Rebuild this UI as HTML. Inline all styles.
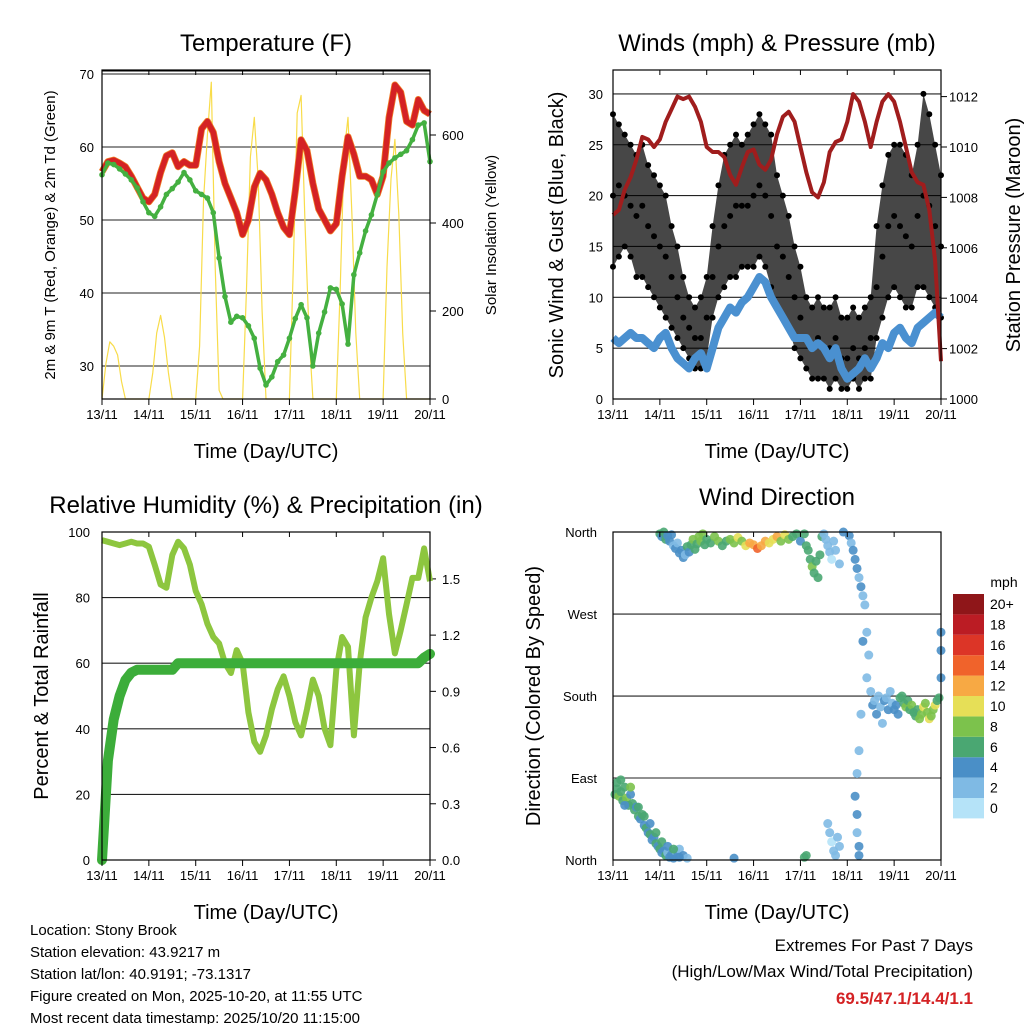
<!DOCTYPE html>
<html><head><meta charset="utf-8"><style>
body{margin:0;background:#fff;}
svg{display:block;font-family:"Liberation Sans",sans-serif;}
</style></head><body>
<svg id="c" width="1024" height="1024" viewBox="0 0 1024 1024">
<g id="g"></g>
</svg>
<script>
const hours=[0,3,6,9,12,15,18,21,24,27,30,33,36,39,42,45,48,51,54,57,60,63,66,69,72,75,78,81,84,87,90,93,96,99,102,105,108,111,114,117,120,123,126,129,132,135,138,141,144,147,150,153,156,159,162,165,168];
const dayLabels=["13/11","14/11","15/11","16/11","17/11","18/11","19/11","20/11"];
const tempT=[56.6,58.0,58.2,57.8,57.3,56.0,54.5,53.0,52.5,53.5,56.5,58.8,59.2,57.3,58.0,57.5,57.5,62.5,63.5,62.0,58.0,55.0,53.0,51.0,48.0,50.0,54.5,56.4,55.5,53.5,51.0,49.0,48.0,54.0,61.0,59.5,55.0,51.5,50.0,48.5,49.5,56.0,61.4,59.0,56.0,56.0,55.5,53.5,56.0,64.0,68.5,67.5,63.5,63.0,66.5,65.0,64.5];
const tempTd=[56.2,57.8,57.6,57,56.3,55.5,54.4,52.5,51,50.5,51.8,53.5,54.3,55.2,56.5,55.5,54,53.5,53,51,44.8,39.5,36,36.8,36.6,35.5,33.8,29.7,27.4,28.5,30.6,31.5,33.8,36.5,38.4,36.6,30,34.5,37.4,40.7,40.5,38.5,33,42.5,45.5,48.5,50.7,53.5,56.6,57.8,58.5,59,59.5,61,63,63.3,58];
const solarHours=[0,2,4,6,8,10,12,14,16,18,20,22,24,26,28,30,32,34,36,38,40,42,44,46,48,50,52,54,56,58,60,62,64,66,68,70,72,74,76,78,80,82,84,86,88,90,92,94,96,98,100,102,104,106,108,110,112,114,116,118,120,122,124,126,128,130,132,134,136,138,140,142,144,146,148,150,152,154,156,158,160,162,164,166,168];
const solar=[0,80,130,120,100,40,0,0,0,0,0,0,0,60,150,190,140,60,0,0,0,0,0,0,0,120,450,600,720,300,20,0,0,0,0,0,0,250,550,640,500,200,0,0,0,0,0,0,0,300,650,690,400,150,0,0,0,0,0,0,0,250,560,640,420,150,0,0,0,0,0,0,0,300,500,590,420,150,0,0,0,0,0,0,0];
const wind=[6,5.5,6,6.5,6,6,5.5,5,6,6.5,5,4,3.5,3,4,4.5,3,5,7,8,9,8.5,9.5,10,11,12,11.5,10,9,8,7,6,6,6,5,5.5,5,4,5,3,2,2.5,3,4,3,4,5.5,5,6.5,7,6,5.5,7,7.5,8,8.5,8];
const gustHi=[28,27,26,25,24,25,23,22,21,20,17,15,12,10,9,10,12,17,21,24,25,26,25,26,27,28,27,26,22,20,18,15,13,10,9,10,9,9,10,8,8,9,8,9,10,17,21,24,25,25,24,22,25,30,28,25,22];
const gustMid=[20,21,20,19,18,19,17,16,15,14,12,10,8,7,6,6,8,12,15,17,18,19,19,19,20,21,20,18,15,14,12,10,8,6,5,6,5,5,6,4,4,5,4,5,6,11,14,17,18,17,16,15,18,20,19,17,15];
const gustLo=[13,14,15,14,12,12,11,10,9,8,7,6,5,4,3,3,4,8,10,11,12,12,13,13,13,14,13,11,9,8,7,5,4,3,2,2,2,1,2,1,1,2,1,2,2,6,8,10,11,10,9,9,11,11,10,9,8];
const pressure=[1007.3,1007.5,1008.3,1008.8,1009.5,1010.4,1010.3,1010.0,1010.3,1011.0,1011.5,1012.0,1011.9,1012.0,1011.6,1011.0,1010.0,1009.8,1009.8,1009.6,1008.9,1008.5,1009.2,1009.8,1009.9,1009.3,1009.1,1009.5,1010.5,1011.2,1011.4,1011.0,1010.0,1009.0,1008.2,1008.0,1008.6,1009.8,1010.2,1010.3,1011.0,1012.1,1011.8,1011.0,1010.0,1011.0,1011.8,1012.1,1011.8,1011.0,1010.0,1009.0,1008.6,1008.5,1007.5,1005.5,1001.5];
const rh=[97.5,97,96.5,96,96.5,97,96.5,96.5,95.5,90,84,83,93,97,95,90,82,78,72,68,66,60,57,64,60,45,36,33,38,46,52,56,50,42,38,46,55,50,40,35,58,68,65,38,60,74,80,85,92,75,63,70,78,86,86,95,85];
const precip=[0,0.53,0.75,0.875,0.96,1.0,1.015,1.015,1.015,1.015,1.015,1.015,1.015,1.05,1.05,1.05,1.05,1.05,1.05,1.05,1.05,1.05,1.05,1.05,1.05,1.05,1.05,1.05,1.05,1.05,1.05,1.05,1.05,1.05,1.05,1.05,1.05,1.05,1.05,1.05,1.05,1.05,1.05,1.05,1.05,1.05,1.05,1.05,1.05,1.05,1.05,1.05,1.05,1.05,1.05,1.08,1.1];
const dirHours=[1,2,3,4,5,6,7,8,9,10,11,12,13,14,15,16,17,18,19,20,21,22,23,24,25,26,27,28,29,30,31,32,33,34,36,38,2,4,6,9,13,16,19,22,25,28,31,34,
24,25,26,27,28,29,30,31,32,33,34,35,36,37,38,39,40,41,42,43,44,45,46,47,48,50,52,54,56,58,60,62,64,66,68,70,72,74,76,78,80,82,84,86,88,90,92,94,96,
98,99,100,101,102,103,104,105,106,107,108,109,110,111,112,113,114,116,118,121,122,123,124,125,126,127,128,129,130,128,131,130,
132,133,134,135,136,137,138,139,140,141,142,143,144,145,146,147,148,149,150,151,152,153,154,155,156,157,158,159,160,161,162,163,164,165,166,167,
110,111,112,113,114,115,116,124,125,125,126,126,125,126,127,62,98,99,168,168,168];
const dirDeg=[72,78,70,75,65,80,68,60,72,62,55,58,48,45,50,38,35,30,28,22,25,18,15,12,8,10,5,8,3,6,2,10,4,12,5,2,85,88,60,80,58,48,40,30,20,15,12,3,
358,355,360,352,356,350,357,345,342,348,337,340,332,335,344,338,346,352,341,347,355,350,358,346,352,348,355,350,345,350,352,348,354,350,345,348,346,342,345,350,348,352,355,350,357,352,355,358,350,
358,345,340,330,322,315,328,310,335,355,358,352,345,338,330,350,340,325,360,356,348,340,330,320,310,300,290,280,250,240,225,200,
185,170,175,160,180,168,150,175,178,165,185,172,165,170,160,178,180,172,168,175,165,170,162,158,165,155,160,168,172,162,155,158,165,170,175,178,
40,30,20,10,5,25,15,70,50,30,15,5,95,120,160,2,3,5,230,200,250];
const dirSpeed=[7,6,8,7,6,7,8,6,5,7,6,4,6,5,6,5,6,4,6,5,4,6,5,6,5,4,6,3,5,4,5,3,4,3,4,3,6,7,5,8,7,6,5,7,6,5,6,4,
6,5,7,6,4,5,4,3,4,3,4,5,4,3,6,5,7,8,6,7,8,9,8,7,6,7,9,8,7,6,8,9,10,9,11,12,13,14,12,13,11,10,12,9,10,8,7,6,5,
6,7,7,7,8,7,6,6,7,7,3,2,3,2,1,3,2,2,4,4,3,4,4,4,3,4,3,2,3,4,2,3,
3,4,3,4,2,3,2,4,3,4,3,2,4,4,5,6,7,6,8,7,6,8,7,6,7,8,9,10,8,9,10,8,9,10,7,6,
2,2,1,2,2,2,3,4,4,3,4,4,3,3,3,4,6,7,4,4,4];
const speedLabels=["0","2","4","6","8","10","12","14","16","18","20+"];
const speedColors=["#b5e3f8","#7fbae4","#4a8fc7","#4aa772","#7cc24c","#e6df57","#f7a944","#f0632b","#dc3527","#bb1c24","#8f1619"];

const NS="http://www.w3.org/2000/svg";
const G=document.getElementById('g');
function el(tag,attrs,parent){const e=document.createElementNS(NS,tag);for(const k in attrs)e.setAttribute(k,attrs[k]);(parent||G).appendChild(e);return e;}
function txt(s,x,y,size,anchor,rot,name,extra){const t=el('text',Object.assign({x:x,y:y,'font-size':size,'text-anchor':anchor||'middle',fill:'#000'},extra||{}));
if(rot)t.setAttribute('transform','rotate('+rot+' '+x+' '+y+')');t.textContent=s;


return t;}
function panel(x0,x1,y0,y1){return {x0,x1,y0,y1,xs:h=>x0+(x1-x0)*h/168};}
const P1=panel(102,430,70,399),P2=panel(613,941,70,399),P3=panel(102,430,532,860),P4=panel(613,941,532,860);
const yT=v=>74+(70-v)*7.3, ySol=v=>399-v*0.44;
const yW=v=>399-v*10.17, yP=v=>399-(v-1000)*25.2;
const yRH=v=>860-v*3.28, yPr=v=>860-v*187.4;
const yDir=v=>860-v*0.911;

function frame(P,name){
 const r=el('rect',{x:P.x0,y:P.y0,width:P.x1-P.x0,height:P.y1-P.y0,fill:'none',stroke:'#000','stroke-width':1.2});
 
 
 for(let d=0;d<=7;d++){const x=P.xs(d*24);
  const tk=el('line',{x1:x,x2:x,y1:P.y1,y2:P.y1+6,stroke:'#000','stroke-width':1});
  
  
  el('line',{x1:x,x2:x,y1:P.y0,y2:P.y0+5,stroke:'#000','stroke-width':1});
  txt(dayLabels[d],x,P.y1+20,13,'middle',0,'x-tick-label');}
 txt('Time (Day/UTC)',(P.x0+P.x1)/2,P.y1+59,20,'middle',0,'x-axis-title');
}
function hgrid(P,y,name){const l=el('line',{x1:P.x0,x2:P.x1,y1:y,y2:y,stroke:'#222','stroke-width':1.1});
 
 }
function linePath(P,xsArr,ysArr,yf,attrs,name){let d='';xsArr.forEach((h,i)=>{d+=(i?'L':'M')+P.xs(h).toFixed(1)+','+yf(ysArr[i]).toFixed(1);});
 const p=el('path',Object.assign({d:d,fill:'none'},attrs));
 
 
 return p;}

// ---------- Panel 1 ----------
[30,40,50,60,70].forEach(v=>{hgrid(P1,yT(v),'temp-gridline');txt(String(v),P1.x0-8,yT(v)+5,13,'end',0,'temp-y-tick-label');});
[0,200,400,600].forEach(v=>{txt(String(v),P1.x1+12,ySol(v)+5,13,'start',0,'solar-y-tick-label');el('line',{x1:P1.x1,x2:P1.x1+6,y1:ySol(v),y2:ySol(v),stroke:'#000'});});
linePath(P1,solarHours,solar,ySol,{stroke:'#f8dc4a','stroke-width':1.2,'stroke-linejoin':'round'},'solar-insolation-line');
linePath(P1,hours,tempT,yT,{stroke:'#f07f27','stroke-width':7,'stroke-linejoin':'round'},'temp-9m-line');
linePath(P1,hours,tempT,yT,{stroke:'#d42224','stroke-width':5.5,'stroke-linejoin':'round'},'temp-2m-line');
linePath(P1,hours,tempTd,yT,{stroke:'#44b040','stroke-width':3.5,'stroke-linejoin':'round'},'dewpoint-line');
hours.forEach((h,i)=>{const c=el('circle',{cx:P1.xs(h),cy:yT(tempTd[i]),r:2.8,fill:'#44b040'});
 
 });
frame(P1,'temperature-plot-frame');
el('line',{x1:P1.x0,x2:P1.x1,y1:P1.y0+1,y2:P1.y0+1,stroke:'#000','stroke-width':1});
txt('Temperature (F)',266,51,24,'middle',0,'temperature-title');
txt('2m & 9m T (Red, Orange) & 2m Td (Green)',55,235,15,'middle',-90,'temperature-y-axis-title');
txt('Solar Insolation (Yellow)',496,235,15,'middle',-90,'solar-y-axis-title');

// ---------- Panel 2 ----------
[5,10,15,20,25,30].forEach(v=>hgrid(P2,yW(v),'wind-gridline'));
[0,5,10,15,20,25,30].forEach(v=>txt(String(v),P2.x0-10,yW(v)+5,13,'end',0,'wind-y-tick-label'));
[1000,1002,1004,1006,1008,1010,1012].forEach(v=>{txt(String(v),P2.x1+8,yP(v)+5,13,'start',0,'pressure-y-tick-label');el('line',{x1:P2.x1,x2:P2.x1+6,y1:yP(v),y2:yP(v),stroke:'#000'});});
(function(){let d='';hours.forEach((h,i)=>{d+=(i?'L':'M')+P2.xs(h).toFixed(1)+','+yW(gustHi[i]).toFixed(1);});
 for(let i=hours.length-1;i>=0;i--)d+='L'+P2.xs(hours[i]).toFixed(1)+','+yW(gustLo[i]).toFixed(1);
 const p=el('path',{d:d+'Z',fill:'#000','fill-opacity':0.72});
 
 })();
[gustHi,gustMid,gustLo].forEach(arr=>hours.forEach((h,i)=>{const c=el('circle',{cx:P2.xs(h),cy:yW(arr[i]),r:3,fill:'#000'});
 
 }));
linePath(P2,hours,wind,yW,{stroke:'#4a90d0','stroke-width':8,'stroke-linejoin':'round'},'sonic-wind-line');
linePath(P2,hours,pressure,yP,{stroke:'#a01d1d','stroke-width':4,'stroke-linejoin':'round'},'pressure-line');
frame(P2,'winds-plot-frame');
txt('Winds (mph) & Pressure (mb)',777,51,24,'middle',0,'winds-title');
txt('Sonic Wind & Gust (Blue, Black)',563,235,20,'middle',-90,'wind-y-axis-title');
txt('Station Pressure (Maroon)',1020,235,20,'middle',-90,'pressure-y-axis-title');

// ---------- Panel 3 ----------
[20,40,60,80].forEach(v=>hgrid(P3,yRH(v),'rh-gridline'));
[0,20,40,60,80,100].forEach(v=>txt(String(v),P3.x0-12,yRH(v)+5,13,'end',0,'rh-y-tick-label'));
[0,0.3,0.6,0.9,1.2,1.5].forEach(v=>{txt(v.toFixed(1),P3.x1+12,yPr(v)+5,13,'start',0,'precip-y-tick-label');el('line',{x1:P3.x1,x2:P3.x1+6,y1:yPr(v),y2:yPr(v),stroke:'#000'});});
linePath(P3,hours,rh,yRH,{stroke:'#8dc63f','stroke-width':6,'stroke-linejoin':'round'},'relative-humidity-line');
linePath(P3,hours,precip,yPr,{stroke:'#3cad3a','stroke-width':10,'stroke-linejoin':'round','stroke-linecap':'round'},'total-rainfall-line');
frame(P3,'humidity-plot-frame');
txt('Relative Humidity (%) & Precipitation (in)',266,513,24,'middle',0,'humidity-title');
txt('Percent & Total Rainfall',48,696,20,'middle',-90,'humidity-y-axis-title');

// ---------- Panel 4 ----------
[90,180,270].forEach(v=>hgrid(P4,yDir(v),'direction-gridline'));
[['North',0],['East',90],['South',180],['West',270],['North',360]].forEach(a=>txt(a[0],P4.x0-16,yDir(a[1])+5,13,'end',0,'direction-tick-label'));
dirHours.forEach((h,i)=>{const b=Math.min(10,Math.floor(dirSpeed[i]/2));
 const c=el('circle',{cx:P4.xs(h),cy:yDir(dirDeg[i]),r:4.5,fill:speedColors[b],'fill-opacity':0.9});
 
 });
frame(P4,'direction-plot-frame');
txt('Wind Direction',777,505,24,'middle',0,'direction-title');
txt('Direction (Colored By Speed)',540,696,20,'middle',-90,'direction-y-axis-title');
// colorbar
txt('mph',1004,587,14,'middle',0,'colorbar-unit-label');
speedLabels.forEach((s,i)=>{const y=594+(10-i)*20.4;
 const r=el('rect',{x:953,y:y,width:31,height:20.4,fill:speedColors[i]});
 
 
 txt(s,990,y+15,14,'start',0,'colorbar-label');});

// ---------- footer ----------
['Location: Stony Brook','Station elevation: 43.9217 m','Station lat/lon: 40.9191; -73.1317','Figure created on Mon, 2025-10-20, at 11:55 UTC','Most recent data timestamp: 2025/10/20 11:15:00']
 .forEach((s,i)=>txt(s,30,935+i*22,15,'start',0,'station-info-line'));
txt('Extremes For Past 7 Days',973,951,17,'end',0,'extremes-title');
txt('(High/Low/Max Wind/Total Precipitation)',973,977,17,'end',0,'extremes-subtitle');
txt('69.5/47.1/14.4/1.1',973,1004,17,'end',0,'extremes-values',{fill:'#d42224','font-weight':'bold'});
</script>
</body></html>
